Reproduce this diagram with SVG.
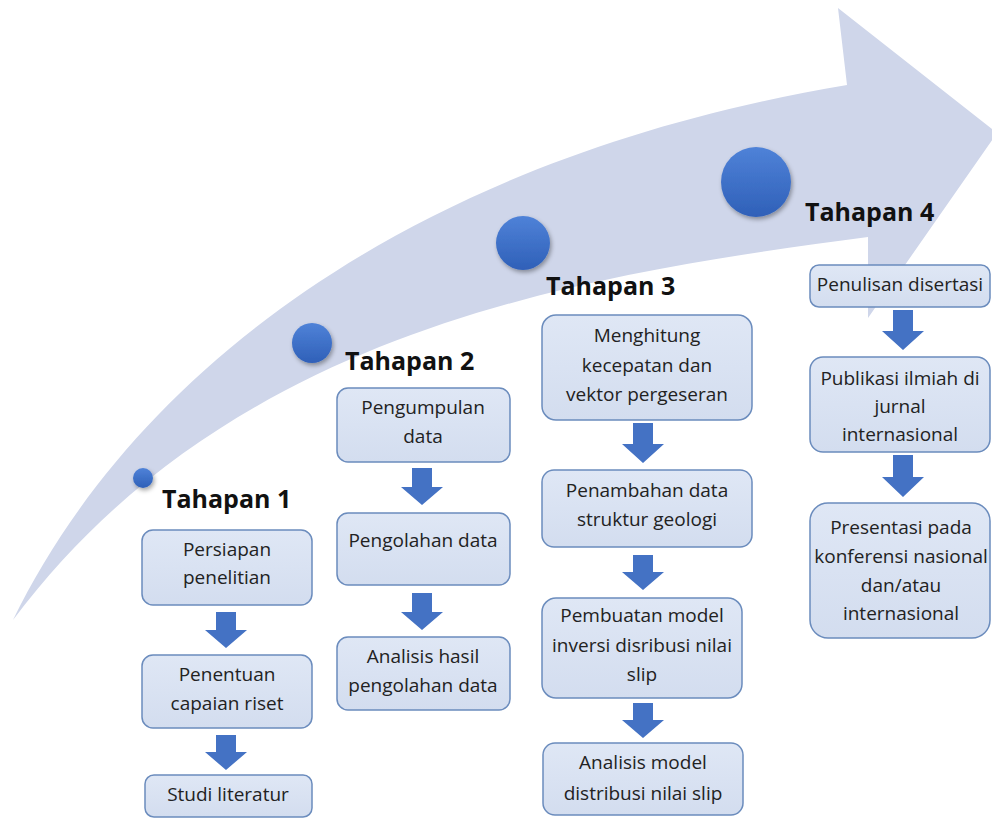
<svg xmlns="http://www.w3.org/2000/svg" width="992" height="819" viewBox="0 0 992 819">
<defs>
<linearGradient id="gCircle" x1="0" y1="0" x2="0" y2="1">
<stop offset="0" stop-color="#4f82d8"/>
<stop offset="1" stop-color="#2f60b8"/>
</linearGradient>
<linearGradient id="gBox" x1="0" y1="0" x2="0" y2="1">
<stop offset="0" stop-color="#dfe7f5"/>
<stop offset="1" stop-color="#d3ddef"/>
</linearGradient>
<filter id="shadow" x="-40%" y="-40%" width="180%" height="180%">
<feDropShadow dx="1.5" dy="2.5" stdDeviation="2" flood-color="#000" flood-opacity="0.35"/>
</filter>
</defs>
<style>
.box{fill:url(#gBox);stroke:#6b8cbd;stroke-width:1.5}
.txt{font-family:"Open Sans","Liberation Sans",sans-serif;font-size:19px;fill:#222;text-anchor:middle}
.lbl{font-family:"Open Sans","Liberation Sans",sans-serif;font-size:25px;font-weight:700;fill:#111}
.dot{fill:url(#gCircle);filter:url(#shadow)}
.down{fill:#4472c4}
</style>
<rect width="992" height="819" fill="#ffffff"/>
<g id="big-arrow">
<path d="M13,620 C130,380 400,160 847,85 L838,8 L997,133 L868,318 L868,237 C580,275 230,330 13,620 Z" fill="#cfd6ea"/>
</g>
<g id="dots">
<circle class="dot" cx="143" cy="478" r="10"/>
<circle class="dot" cx="312" cy="343" r="20"/>
<circle class="dot" cx="523" cy="243" r="27"/>
<circle class="dot" cx="756" cy="182" r="35"/>
</g>
<g id="connectors">
<path class="down" d="M216,612 h20 v18 h11 l-21,18 l-21,-18 h11 z"/>
<path class="down" d="M216,735 h20 v17 h11 l-21,18 l-21,-18 h11 z"/>
<path class="down" d="M412,468 h20 v19 h11 l-21,18 l-21,-18 h11 z"/>
<path class="down" d="M412,593 h20 v19 h11 l-21,18 l-21,-18 h11 z"/>
<path class="down" d="M633,423 h20 v21 h11 l-21,19 l-21,-19 h11 z"/>
<path class="down" d="M633,555 h20 v17 h11 l-21,18 l-21,-18 h11 z"/>
<path class="down" d="M633,703 h20 v17 h11 l-21,18 l-21,-18 h11 z"/>
<path class="down" d="M893,310 h20 v21 h11 l-21,19 l-21,-19 h11 z"/>
<path class="down" d="M893,455 h20 v22 h11 l-21,20 l-21,-20 h11 z"/>
</g>
<g id="tahapan1">
<text class="lbl" x="162" y="508">Tahapan 1</text>
</g>
<g id="t1-persiapan">
<rect class="box" x="142" y="530" width="170" height="75" rx="11"/>
<text class="txt" x="227" y="556">Persiapan</text>
<text class="txt" x="227" y="584">penelitian</text>
</g>
<g id="t1-penentuan">
<rect class="box" x="142" y="655" width="170" height="73" rx="11"/>
<text class="txt" x="227" y="681">Penentuan</text>
<text class="txt" x="227" y="710">capaian riset</text>
</g>
<g id="t1-studi">
<rect class="box" x="145" y="775" width="167" height="42" rx="9"/>
<text class="txt" x="228" y="801">Studi literatur</text>
</g>
<g id="tahapan2">
<text class="lbl" x="345" y="370">Tahapan 2</text>
</g>
<g id="t2-pengumpulan">
<rect class="box" x="337" y="388" width="173" height="74" rx="11"/>
<text class="txt" x="423" y="414">Pengumpulan</text>
<text class="txt" x="423" y="443">data</text>
</g>
<g id="t2-pengolahan">
<rect class="box" x="337" y="513" width="173" height="72" rx="11"/>
<text class="txt" x="423" y="547">Pengolahan data</text>
</g>
<g id="t2-analisis">
<rect class="box" x="337" y="637" width="173" height="73" rx="11"/>
<text class="txt" x="423" y="663">Analisis hasil</text>
<text class="txt" x="423" y="692">pengolahan data</text>
</g>
<g id="tahapan3">
<text class="lbl" x="546" y="295">Tahapan 3</text>
</g>
<g id="t3-menghitung">
<rect class="box" x="542" y="315" width="210" height="105" rx="14"/>
<text class="txt" x="647" y="342">Menghitung</text>
<text class="txt" x="647" y="372">kecepatan dan</text>
<text class="txt" x="647" y="401">vektor pergeseran</text>
</g>
<g id="t3-penambahan">
<rect class="box" x="542" y="470" width="210" height="77" rx="12"/>
<text class="txt" x="647" y="497">Penambahan data</text>
<text class="txt" x="647" y="526">struktur geologi</text>
</g>
<g id="t3-pembuatan">
<rect class="box" x="542" y="598" width="200" height="100" rx="14"/>
<text class="txt" x="642" y="622">Pembuatan model</text>
<text class="txt" x="642" y="652">inversi disribusi nilai</text>
<text class="txt" x="642" y="681">slip</text>
</g>
<g id="t3-analisis">
<rect class="box" x="543" y="743" width="200" height="72" rx="12"/>
<text class="txt" x="643" y="769">Analisis model</text>
<text class="txt" x="643" y="800">distribusi nilai slip</text>
</g>
<g id="tahapan4">
<text class="lbl" x="805" y="221">Tahapan 4</text>
</g>
<g id="t4-penulisan">
<rect class="box" x="810" y="265" width="180" height="42" rx="9"/>
<text class="txt" x="900" y="291">Penulisan disertasi</text>
</g>
<g id="t4-publikasi">
<rect class="box" x="810" y="357" width="180" height="95" rx="13"/>
<text class="txt" x="900" y="385">Publikasi ilmiah di</text>
<text class="txt" x="900" y="413">jurnal</text>
<text class="txt" x="900" y="441">internasional</text>
</g>
<g id="t4-presentasi">
<rect class="box" x="810" y="503" width="180" height="135" rx="18"/>
<text class="txt" x="901" y="534">Presentasi pada</text>
<text class="txt" x="901" y="563">konferensi nasional</text>
<text class="txt" x="901" y="592">dan/atau</text>
<text class="txt" x="901" y="620">internasional</text>
</g>
</svg>
